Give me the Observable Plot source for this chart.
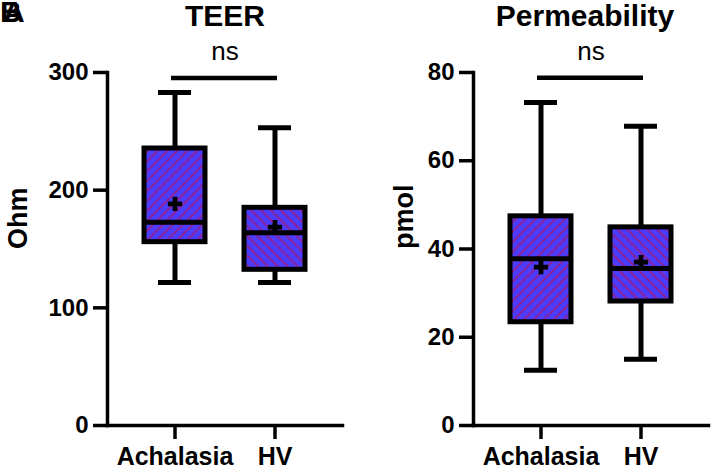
<!DOCTYPE html>
<html>
<head>
<meta charset="utf-8">
<script src="https://cdn.jsdelivr.net/npm/d3@7"></script>
<script src="https://cdn.jsdelivr.net/npm/@observablehq/plot@0.6"></script>
<style>
  html, body { margin: 0; padding: 0; background: #fff; }
  #wrap { position: relative; width: 714px; height: 469px; display: flex; font-family: "Liberation Sans", Arial, sans-serif; }
  .panel-letter { position: absolute; top: -3px; font: bold 30px/1 "Liberation Sans", Arial, sans-serif; color: #000; }
</style>
</head>
<body>
<div id="wrap">
  <span class="panel-letter" style="left:0px">B</span>
  <span class="panel-letter" style="left:3px">A</span>
</div>
<script>
// ---------- data ----------
const categories = ["Achalasia", "HV"];

const teerTitle = "TEER";
const teerLabel = "Ohm";
const teerTicks = [0, 100, 200, 300];
const teerMin  = [121.5, 121.5];
const teerQ1   = [155.8, 132.3];
const teerMed  = [172.8, 163.8];
const teerQ3   = [235.4, 185.0];
const teerMax  = [283.0, 253.0];
const teerMean = [188.4, 168.5];
const teerSig  = ["ns"];
const teerSigY = [295.3];

const permTitle = "Permeability";
const permLabel = "pmol";
const permTicks = [0, 20, 40, 60, 80];
const permMin  = [12.5, 15.0];
const permQ1   = [23.4, 28.1];
const permMed  = [37.8, 35.6];
const permQ3   = [47.4, 44.9];
const permMax  = [73.2, 67.8];
const permMean = [35.9, 37.0];
const permSig  = ["ns"];
const permSigY = [78.8];

const patterns = ["url(#hatchA)", "url(#hatchB)"];

function rows(mn, q1, md, q3, mx, mean) {
  return categories.map((c, i) => ({cat: c, min: mn[i], q1: q1[i], med: md[i], q3: q3[i], max: mx[i], mean: mean[i]}));
}

const FONT = "Liberation Sans, Arial, sans-serif";

function panel({data, title, label, ticks, domainMax, sig, sigY, marginLeft, marginRight, labelDx, titleDx}) {
  return Plot.plot({
    width: 357,
    height: 469,
    marginLeft,
    marginRight,
    marginTop: 72,
    marginBottom: 44,
    style: {fontFamily: FONT, color: "#000", background: "transparent", overflow: "visible"},
    x: {type: "band", domain: categories, paddingInner: 0.39, paddingOuter: 0.37},
    y: {domain: [0, domainMax]},
    marks: [
      Plot.frame({anchor: "left", strokeWidth: 3.5}),
      Plot.frame({anchor: "bottom", strokeWidth: 3.5}),
      Plot.axisY({ticks, tickSize: 14, tickPadding: 5, strokeWidth: 3.5, fontSize: 24, fontWeight: "bold", label: null}),
      Plot.axisX({tickSize: 14, tickPadding: 8, strokeWidth: 3.5, fontSize: 25, fontWeight: "bold", label: null}),
      // whiskers
      Plot.ruleX(data, {x: "cat", y1: "min", y2: "max", strokeWidth: 5, stroke: "#000"}),
      Plot.tickY(data, {x: "cat", y: "min", strokeWidth: 5, stroke: "#000", insetLeft: 14, insetRight: 14}),
      Plot.tickY(data, {x: "cat", y: "max", strokeWidth: 5, stroke: "#000", insetLeft: 14, insetRight: 14}),
      // boxes
      Plot.barY(data.filter((d, i) => i === 0), {x: "cat", y1: "q1", y2: "q3", fill: patterns[0], stroke: "#000", strokeWidth: 5}),
      Plot.barY(data.filter((d, i) => i === 1), {x: "cat", y1: "q1", y2: "q3", fill: patterns[1], stroke: "#000", strokeWidth: 5}),
      Plot.tickY(data, {x: "cat", y: "med", strokeWidth: 5, stroke: "#000"}),
      Plot.dot(data, {x: "cat", y: "mean", symbol: "cross", r: 6, fill: "#000", stroke: "none"}),
      // significance
      Plot.ruleY(sigY, {y: d => d, x1: () => categories[0], x2: () => categories[1], strokeWidth: 4.5, stroke: "#000", insetLeft: 27, insetRight: 28}),
      Plot.text(sig, {frameAnchor: "top", dy: -31, fontSize: 26, fontFamily: FONT, fill: "#000"}),
      // title & y label
      Plot.text([title], {frameAnchor: "top", dy: -68, dx: titleDx, fontSize: 30, fontWeight: "bold", fontFamily: FONT, fill: "#000"}),
      Plot.text([label], {frameAnchor: "left", dx: labelDx, rotate: -90, fontSize: 27, fontWeight: "bold", fontFamily: FONT, fill: "#000"})
    ]
  });
}

const left = panel({
  data: rows(teerMin, teerQ1, teerMed, teerQ3, teerMax, teerMean),
  title: teerTitle, label: teerLabel, ticks: teerTicks, domainMax: 300,
  sig: teerSig, sigY: teerSigY, marginLeft: 107, marginRight: 15, labelDx: -89, titleDx: 0
});
const right = panel({
  data: rows(permMin, permQ1, permMed, permQ3, permMax, permMean),
  title: permTitle, label: permLabel, ticks: permTicks, domainMax: 80,
  sig: permSig, sigY: permSigY, marginLeft: 116, marginRight: 6, labelDx: -69, titleDx: -6
});

const wrap = document.getElementById("wrap");
wrap.insertBefore(right, wrap.firstChild);
wrap.insertBefore(left, wrap.firstChild);

// hatch patterns
const defs = d3.select(left).insert("defs", ":first-child");
[["hatchA", 45], ["hatchB", -45]].forEach(([id, angle]) => {
  const p = defs.append("pattern")
    .attr("id", id)
    .attr("patternUnits", "userSpaceOnUse")
    .attr("width", 7)
    .attr("height", 7)
    .attr("patternTransform", `rotate(${angle})`);
  p.append("rect").attr("width", 7).attr("height", 7).attr("fill", "#4c3cff");
  p.append("line").attr("x1", 1).attr("x2", 1).attr("y1", 0).attr("y2", 7)
    .attr("stroke", "#9a1c80").attr("stroke-width", 1.6);
});
</script>
</body>
</html>
